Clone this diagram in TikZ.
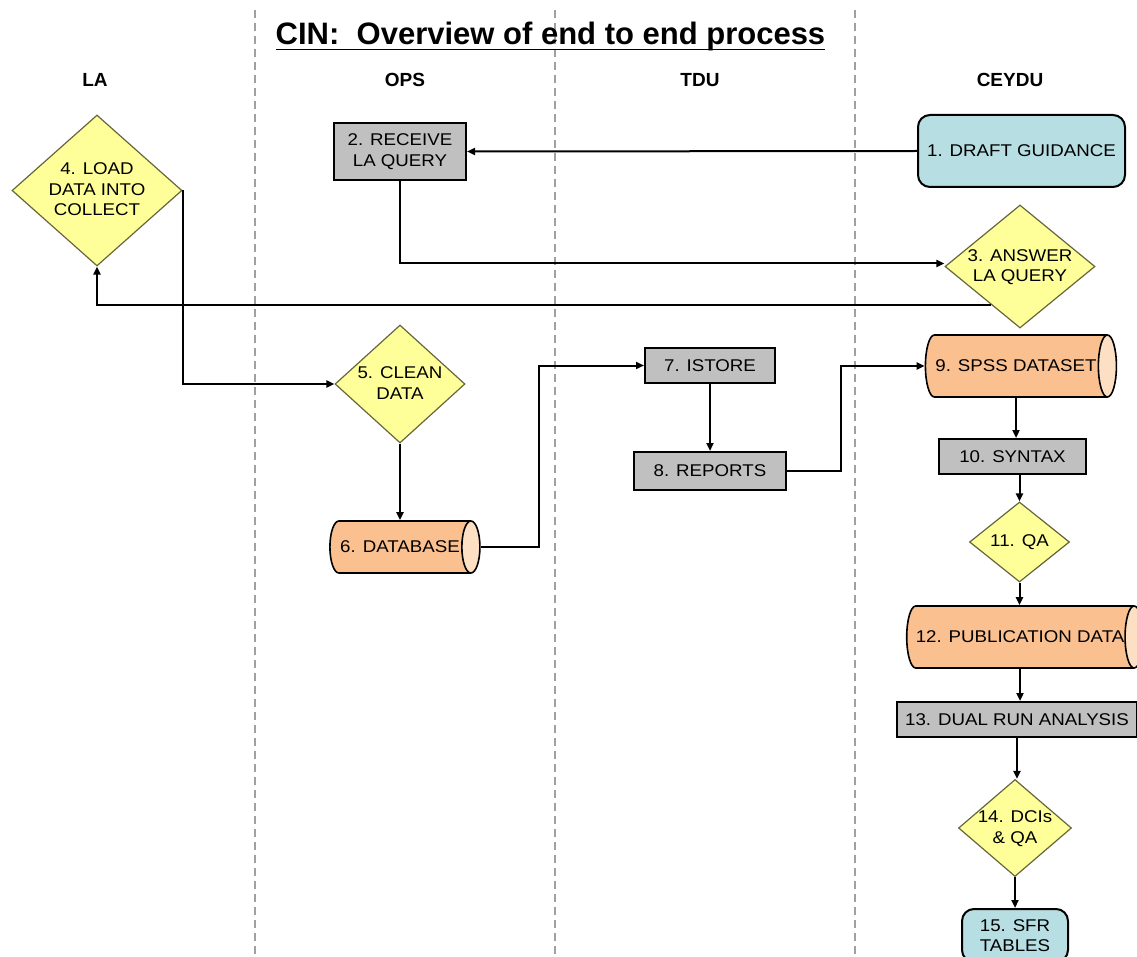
\documentclass[tikz,border=0pt]{standalone}
\usepackage{fontspec}
\setmainfont{Liberation Sans}
\newfontfamily\nodefont[FakeStretch=1.1]{Liberation Sans}
\usetikzlibrary{shapes.geometric,arrows.meta,calc}
\definecolor{tealfill}{HTML}{B7DEE2}
\definecolor{grayfill}{HTML}{C0C0C0}
\definecolor{yelfill}{HTML}{FFFF99}
\definecolor{diaedge}{HTML}{66663D}
\definecolor{orbody}{HTML}{FAC090}
\definecolor{orend}{HTML}{FDE0C4}
\definecolor{lanecol}{HTML}{A0A0A0}
\newcommand\dtxt[1]{\smash{\makebox[0pt]{\raisebox{-0.3em}{\begin{tabular}{@{}c@{}}#1\end{tabular}}}}}
\begin{document}
\begin{tikzpicture}[x=1pt,y=1pt,
  every node/.style={font=\nodefont\fontsize{17}{20.5}\selectfont, text=black},
  gbox/.style={rectangle, draw=black, line width=2pt, fill=grayfill, align=center, inner sep=2pt},
  rbox/.style={rectangle, rounded corners=12pt, draw=black, line width=2pt, fill=tealfill, align=center, inner sep=2pt},
  dia/.style={diamond, draw=diaedge, line width=1.2pt, fill=yelfill, inner sep=0pt},
  cyl/.style={cylinder, shape border rotate=0, aspect=1.5, draw=black, line width=1.6pt,
     cylinder uses custom fill, cylinder body fill=orbody, cylinder end fill=orend, inner sep=0pt},
  lane/.style={draw=lanecol, line width=1.2pt, dash pattern=on 8pt off 5pt},
  hdr/.style={font=\bfseries\fontsize{19}{22}\selectfont},
  conn/.style={draw=black, line width=2pt, -{Triangle[length=8pt,width=7pt]}}
]
\useasboundingbox (0,0) rectangle (1137,-957);
\fill[white] (0,0) rectangle (1137,-957);

% lanes
\draw[lane] (255,-10) -- (255,-957);
\draw[lane] (555,-10) -- (555,-957);
\draw[lane] (855,-10) -- (855,-957);

% title
\node[anchor=base, inner sep=0pt, font=\bfseries\fontsize{31}{36}\selectfont] (title) at (550.5,-45) {CIN:\ \ Overview of end to end process};
\draw[line width=1.6pt] ([yshift=-4.5pt]title.base west) -- ([yshift=-4.5pt]title.base east);

% headers
\node[hdr] (hLA) at (95,-80) {LA};
\node[hdr] (hOPS) at (405,-80) {OPS};
\node[hdr] (hTDU) at (700,-80) {TDU};
\node[hdr] (hCEYDU) at (1010,-80) {CEYDU};

% nodes
\node[rbox, minimum width=207pt, minimum height=72pt] (n1) at (1021.5,-151) {1. DRAFT GUIDANCE};
\node[gbox, minimum width=132pt, minimum height=57pt] (n2) at (400,-151.5) {2. RECEIVE\\LA QUERY};
\node[dia, minimum width=150pt, minimum height=123pt] (n3) at (1020,-266.5) {\dtxt{3. ANSWER\\LA QUERY}};
\node[dia, minimum width=170pt, minimum height=151pt] (n4) at (97,-190.5) {\dtxt{4. LOAD\\DATA INTO\\COLLECT}};
\node[dia, minimum width=130pt, minimum height=118pt] (n5) at (400,-384) {\dtxt{5. CLEAN\\DATA}};
\node[cyl, minimum width=52pt, minimum height=150pt] (n6) at (400,-547) {6. DATABASE};
\node[gbox, minimum width=130pt, minimum height=35pt] (n7) at (710,-365.5) {7. ISTORE};
\node[gbox, minimum width=152pt, minimum height=38pt] (n8) at (710,-471) {8. REPORTS};
\node[cyl, minimum width=62pt, minimum height=191pt] (n9) at (1016,-366) {9. SPSS DATASET};
\node[gbox, minimum width=147pt, minimum height=35pt] (n10) at (1012.5,-456.5) {10. SYNTAX};
\node[dia, minimum width=100pt, minimum height=80pt] (n11) at (1019.5,-542) {\dtxt{11. QA}};
\node[cyl, minimum width=62pt, minimum height=236pt] (n12) at (1020,-637) {12. PUBLICATION DATA};
\node[gbox, minimum width=240pt, minimum height=35pt] (n13) at (1017,-719.5) {13. DUAL RUN ANALYSIS};
\node[dia, minimum width=113pt, minimum height=97pt] (n14) at (1015,-828) {\dtxt{14. DCIs\\\& QA}};
\node[rbox, minimum width=106pt, minimum height=53pt] (n15) at (1015,-935.5) {15. SFR\\TABLES};

% connectors
\draw[conn] (n1.west) -- (n2.east);
\draw[conn] (n2.south) |- ([yshift=3pt]n3.west);
\draw[conn] (n3.-127) -| (n4.south);
\draw[conn] (n4.east) |- (n5.west);
\draw[conn] (n5.south) -- (n5.south |- n6.north);
\draw[conn] (n6.east) -- ++(58,0) |- (n7.west);
\draw[conn] (n7.south) -- (n8.north);
\draw[conn] (n8.east) -- ++(54,0) |- (n9.west);
\draw[conn] (n9.south) -- (n9.south |- n10.north);
\draw[conn] (n11.north |- n10.south) -- (n11.north);
\draw[conn] (n11.south) -- (n11.south |- n12.north);
\draw[conn] (n12.south) -- (n12.south |- n13.north);
\draw[conn] (n13.south) -- (n13.south |- n14.north);
\draw[conn] (n14.south) -- (n14.south |- n15.north);
\end{tikzpicture}
\end{document}
